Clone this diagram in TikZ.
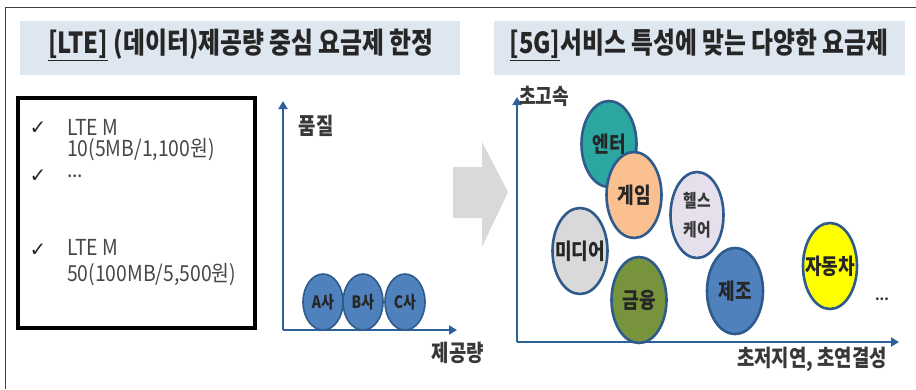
\documentclass[tikz,border=0pt]{standalone}
\usepackage{fontspec}
\setmainfont{Noto Sans CJK KR}
\newfontfamily\krc[FakeStretch=0.82]{Noto Sans CJK KR}
\newfontfamily\krl[FakeStretch=0.88]{Noto Sans CJK KR}
\newfontfamily\sym{DejaVu Sans}
\usetikzlibrary{arrows.meta,shapes.geometric}
\definecolor{axisblue}{RGB}{46,96,156}
\definecolor{rimblue}{RGB}{47,90,140}
\definecolor{band}{RGB}{222,230,240}
\definecolor{frame}{RGB}{64,64,64}
\definecolor{abc}{RGB}{79,129,189}
\definecolor{teal}{RGB}{43,166,160}
\definecolor{peach}{RGB}{250,192,144}
\definecolor{lav}{RGB}{230,224,236}
\definecolor{lgray}{RGB}{217,217,217}
\definecolor{olive}{RGB}{119,147,60}
\definecolor{mblue}{RGB}{79,129,189}
\definecolor{yel}{RGB}{255,255,0}
\definecolor{arrgray}{RGB}{217,217,217}
\tikzset{
  axis/.style={draw=axisblue, line width=2.6pt, -{Triangle[length=8pt,width=9pt]}},
  ell/.style={ellipse, draw=rimblue, line width=2.6pt, inner sep=0pt, minimum width=55pt, minimum height=86pt},
  small/.style={ellipse, draw=rimblue, line width=1.6pt, fill=abc, inner sep=0pt, minimum width=40pt, minimum height=56pt},
  title/.style={font=\krc\bfseries\fontsize{29}{29}\selectfont, text=black!85},
  lab/.style={font=\krc\bfseries\fontsize{22}{22}\selectfont, text=black!85},
  axlab/.style={font=\krc\bfseries\fontsize{23}{23}\selectfont, text=black!78},
  abclab/.style={font=\krc\bfseries\fontsize{17}{17}\selectfont, text=black!85},
  listtxt/.style={font=\krl\fontsize{22}{22}\selectfont, text=black!72, anchor=west, inner sep=0pt},
  chk/.style={font=\sym\fontsize{20}{20}\selectfont, text=black!85, inner sep=0pt}
}
\begin{document}
\begin{tikzpicture}[x=1pt,y=-1pt]
\useasboundingbox (0,0) rectangle (916,389);
% frame
\draw[frame, line width=1pt] (916,7) -- (5,7) -- (5,389);
% header bands
\fill[band] (20,21) rectangle (460,75);
\fill[band] (494,21) rectangle (905,75);
\node[title] (t1) at (241,45) {\underline{[LTE]} (데이터)제공량 중심 요금제 한정};
\node[title] (t2) at (699,45) {\underline{[5G]}서비스 특성에 맞는 다양한 요금제};
% left list box
\draw[black, line width=3.5pt] (18,98) rectangle (255,328);
\node[chk] (c1) at (38,128) {✓};
\node[listtxt] (l1) at (67,127) {LTE M};
\node[listtxt] (l2) at (67,150) {10(5MB/1,100원)};
\node[chk] (c2) at (38,176) {✓};
\node[listtxt] (l3) at (67,176) {...};
\node[chk] (c3) at (38,250) {✓};
\node[listtxt] (l4) at (67,247) {LTE M};
\node[listtxt] (l5) at (67,275) {50(100MB/5,500원)};
% left axes
\coordinate (o1) at (283,330);
\coordinate (y1) at (283,101);
\coordinate (x1) at (457,330);
\draw[axis] (o1) -- (y1);
\draw[axis] (o1) -- (x1);
\node[axlab] (q) at (316,126) {품질};
\node[axlab] (s) at (458,353) {제공량};
\node[small] (A) at (323,302) {};
\node[small] (B) at (363,302) {};
\node[small] (C) at (405,302) {};
\node[abclab] at (A) {A사};
\node[abclab] at (B) {B사};
\node[abclab] at (C) {C사};
% gray arrow
\fill[arrgray] (453,167) -- (482,167) -- (482,142) -- (508,192) -- (482,247) -- (482,218) -- (453,218) -- cycle;
% right axes
\coordinate (o2) at (517,342);
\coordinate (y2) at (517,97);
\coordinate (x2) at (899,342);
\draw[axis] (o2) -- (y2);
\draw[axis] (o2) -- (x2);
\node[axlab, font=\krc\bfseries\fontsize{22}{22}\selectfont] (hs) at (544,96) {초고속};
\node[axlab] (ll) at (812,359) {초저지연, 초연결성};
% bubbles
\node[ell, fill=teal] (ent) at (609,144) {};
\node[lab] at (ent) {엔터};
\node[ell, fill=peach] (game) at (634,195) {};
\node[lab] at (game) {게임};
\node[ell, fill=lav, minimum width=53pt] (hc) at (697,215) {};
\node[font=\krc\bfseries\fontsize{18}{29}\selectfont, text=black!78, align=center] at (hc) {헬스\\케어};
\node[ell, fill=lgray] (med) at (580,251) {};
\node[lab] at (med) {미디어};
\node[ell, fill=olive] (fin) at (639,300) {};
\node[lab] at (fin) {금융};
\node[ell, fill=mblue, minimum width=56pt] (mfg) at (735,291) {};
\node[lab] at (mfg) {제조};
\node[ell, fill=yel, minimum width=54pt] (car) at (830,266) {};
\node[lab] at (car) {자동차};
\node[font=\bfseries\fontsize{13}{13}\selectfont, text=black!80] (dots) at (882,299) {...};
\end{tikzpicture}
\end{document}
